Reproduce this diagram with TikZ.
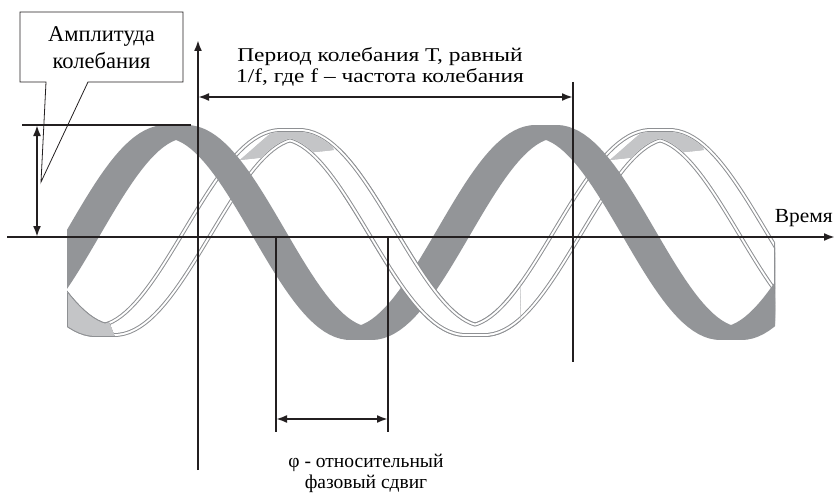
\documentclass[tikz,border=0pt]{standalone}
\usepackage{fontspec}
\setmainfont{Liberation Serif}
\newfontfamily\perfont{Liberation Serif}[FakeStretch=1.2]
\newfontfamily\timefont{Liberation Serif}[FakeStretch=1.07]
\usetikzlibrary{arrows.meta}
\definecolor{ink}{HTML}{231F20}
\definecolor{waveGray}{HTML}{939598}
\definecolor{edgeGray}{HTML}{8E9093}
\definecolor{paleGray}{HTML}{C4C5C7}
\newcommand\owlayers[1]{%
  \foreach \c/\w in {#1}{%
    \foreach \s in {0,3,...,18}{%
      \draw[color=\c, line width=\w pt, line join=round]
        plot[domain=20:820, samples=170] ({\x+\s},{ow(\x)});
    }}}
\newcommand\drawowave{\owlayers{edgeGray/13,white/11,edgeGray/7,white/5}}
\begin{document}
\begin{tikzpicture}[x=1pt,y=-1pt,
  declare function={gw(\t)=232.5-101*cos(0.972973*(\t-165.5));
                    ow(\t)=232.5-98*cos(0.972973*(\t-281));},
  axisline/.style={ink, line width=2pt},
  tipa/.tip={Latex[length=11pt,width=8pt]},
  dimline/.style={ink, line width=2pt, tipa-tipa},
  lbl/.style={align=center, inner sep=0pt},
]
\useasboundingbox (0,0) rectangle (838,495);

% ---- waves ----
\begin{scope}
  \clip (67,0) rectangle (775,495);
  \drawowave
  % pale accents of the outlined ribbon
  \begin{scope}
    \clip (67,280) -- (92,280) -- (118,345) -- (67,345) -- cycle;
    \owlayers{edgeGray/13,paleGray/11}
  \end{scope}
  \begin{scope}
    \clip (240,160) -- (288,118) -- (322,118) -- (334,150) -- cycle;
    \owlayers{paleGray/5}
  \end{scope}
  \begin{scope}
    \clip (610,160) -- (658,118) -- (692,118) -- (704,150) -- cycle;
    \owlayers{paleGray/5}
  \end{scope}
  % thick grey wave
  \foreach \s in {0,3,...,21}{%
    \draw[waveGray, line width=13pt, line join=round]
      plot[domain=20:820, samples=170] ({\x+\s},{gw(\x)});
  }
  % outlined wave passes over the grey one here
  \begin{scope}
    \clip (340,0) rectangle (520,495);
    \drawowave
  \end{scope}
\end{scope}
\draw[edgeGray, line width=1pt] (67.5,293) -- (67.5,327);
\draw[edgeGray, line width=1pt] (774.5,243) -- (774.5,294);

% ---- coordinates ----
\coordinate (hL) at (7,237);
\coordinate (hR) at (835,237);
\coordinate (vB) at (198,470);
\coordinate (vT) at (198,40);
\coordinate (pL) at (198,97);
\coordinate (pR) at (573,97);
\coordinate (rT) at (573,82);
\coordinate (rB) at (573,362);
\coordinate (f1T) at (276,237);
\coordinate (f1B) at (276,432);
\coordinate (f2T) at (388,237);
\coordinate (f2B) at (388,432);
\coordinate (fL) at (276,419);
\coordinate (fR) at (388,419);
\coordinate (aT) at (37,125);
\coordinate (aB) at (37,237);
\coordinate (lnL) at (22,125);
\coordinate (lnR) at (191,125);
\coordinate (tip) at (41,182);

% ---- callout ----
\draw[ink, line width=0.8pt, fill=white, line join=miter]
  (20,12) -- (183,12) -- (183,82) -- (88,82) -- (tip) -- (46,82) -- (20,82) -- cycle;
\node[lbl, font=\fontsize{22.5}{26.6}\selectfont] (amp) at (101.5,47.5) {Амплитуда\\колебания};

% ---- axes and dimension lines ----
\draw[axisline, -tipa] (hL) -- (hR);
\draw[axisline, -tipa] (vB) -- (vT);
\draw[axisline] (rT) -- (rB);
\draw[axisline] (f1T) -- (f1B);
\draw[axisline] (f2T) -- (f2B);
\draw[axisline] (lnL) -- (lnR);
\draw[dimline] (pL) -- (pR);
\draw[dimline] (fL) -- (fR);
\draw[dimline] (aT) -- (aB);

% ---- labels ----
\node[lbl, font=\perfont\fontsize{19.5}{21}\selectfont] (per) at (380,66.6)
  {Период колебания Т, равный\\1/f, где f – частота колебания};
\node[lbl, font=\timefont\fontsize{20}{24}\selectfont, anchor=base east] (time) at (833,222) {Время};
\node[lbl, font=\fontsize{19.5}{21}\selectfont] (phase) at (366,473.4)
  {φ - относительный\\фазовый сдвиг};
\end{tikzpicture}
\end{document}
